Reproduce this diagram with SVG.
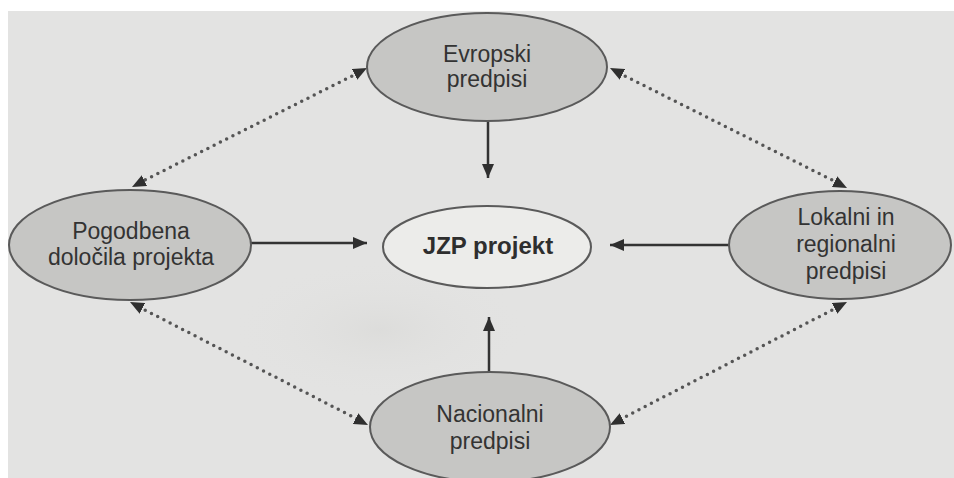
<svg xmlns="http://www.w3.org/2000/svg" width="954" height="478" viewBox="0 0 954 478">
<defs>
<marker id="ah" viewBox="0 0 14 12" refX="14" refY="6" markerWidth="14" markerHeight="12" markerUnits="userSpaceOnUse" orient="auto-start-reverse">
<path d="M0,0 L14,6 L0,12 Z" fill="#2f2f2f"/>
</marker>
<radialGradient id="blob" cx="0.5" cy="0.5" r="0.5">
<stop offset="0" stop-color="#d8d8d6" stop-opacity="0.6"/>
<stop offset="1" stop-color="#e3e3e2" stop-opacity="0"/>
</radialGradient>
</defs>
<style>
.bub{fill:#c6c6c4;stroke:#5a5a5a;stroke-width:2}
.core{fill:#ececea;stroke:#5a5a5a;stroke-width:2}
.lbl{font-family:"Liberation Sans",Arial,sans-serif;font-size:23px;fill:#333333;text-anchor:middle}
.bold{font-weight:bold;font-size:24px;fill:#2e2e2e}
.solid{stroke:#333;stroke-width:2.5;fill:none}
.dot{stroke:#555;stroke-width:3.5;stroke-linecap:round;stroke-dasharray:0 7;fill:none}
</style>
<rect x="0" y="0" width="954" height="478" fill="#ffffff"/>
<rect x="8" y="11" width="946" height="467" fill="#e3e3e2"/>
<ellipse cx="380" cy="330" rx="150" ry="70" fill="url(#blob)"/>
<g id="connectors">
<line class="solid" x1="488" y1="122" x2="488" y2="178" marker-end="url(#ah)"/>
<line class="solid" x1="489" y1="372" x2="489" y2="317" marker-end="url(#ah)"/>
<line class="solid" x1="250" y1="243" x2="367" y2="243" marker-end="url(#ah)"/>
<line class="solid" x1="729" y1="245" x2="610" y2="245" marker-end="url(#ah)"/>
<line class="dot" x1="358" y1="73" x2="141" y2="182"/>
<path d="M367,68 L132,187" stroke="none" fill="none" marker-start="url(#ah)" marker-end="url(#ah)"/>
<line class="dot" x1="619" y1="73" x2="838" y2="183"/>
<path d="M610,68 L847,188" stroke="none" fill="none" marker-start="url(#ah)" marker-end="url(#ah)"/>
<line class="dot" x1="139" y1="307" x2="359" y2="420"/>
<path d="M130,302 L368,425" stroke="none" fill="none" marker-start="url(#ah)" marker-end="url(#ah)"/>
<line class="dot" x1="838" y1="307" x2="619" y2="420"/>
<path d="M847,302 L610,425" stroke="none" fill="none" marker-start="url(#ah)" marker-end="url(#ah)"/>
</g>
<g id="evropski">
<ellipse class="bub" cx="487" cy="67" rx="120" ry="54"/>
<text class="lbl" x="487" y="62">Evropski</text>
<text class="lbl" x="487" y="87">predpisi</text>
</g>
<g id="pogodbena">
<ellipse class="bub" cx="130" cy="245" rx="121" ry="55"/>
<text class="lbl" x="131" y="239">Pogodbena</text>
<text class="lbl" x="131" y="265">določila projekta</text>
</g>
<g id="jzp">
<ellipse class="core" cx="487" cy="247" rx="104" ry="41"/>
<text class="lbl bold" x="488" y="254">JZP projekt</text>
</g>
<g id="lokalni">
<ellipse class="bub" cx="840" cy="245" rx="111" ry="54"/>
<text class="lbl" x="846" y="225">Lokalni in</text>
<text class="lbl" x="846" y="252">regionalni</text>
<text class="lbl" x="846" y="279">predpisi</text>
</g>
<g id="nacionalni">
<ellipse class="bub" cx="490" cy="427" rx="120" ry="55"/>
<text class="lbl" x="490" y="422">Nacionalni</text>
<text class="lbl" x="490" y="449">predpisi</text>
</g>
</svg>
